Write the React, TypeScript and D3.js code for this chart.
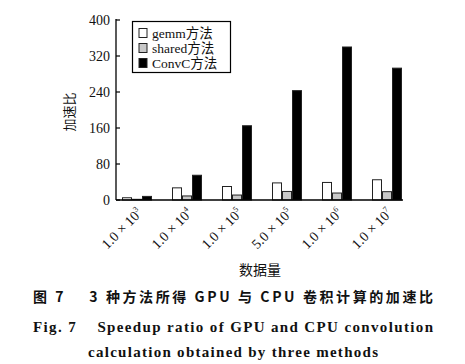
import {scaleBand, scaleLinear} from "d3";

const CATEGORIES = ["1.0×10|3", "1.0×10|4", "1.0×10|5", "5.0×10|5", "1.0×10|6", "1.0×10|7"];
const SERIES_NAMES = ["gemm方法", "shared方法", "ConvC方法"];
const GEMM = [5, 27, 30, 38, 39, 45];
const SHARED = [1.5, 9, 11, 19, 15.5, 18.5];
const CONVC = [8, 55, 165, 243, 340, 293];
const Y_TICKS = [0, 80, 160, 240, 320, 400];
const FILLS = ["#ffffff", "#c8c8c8", "#000000"];

const SERIF = "'Liberation Serif', 'Times New Roman', 'Noto Sans CJK SC', serif";

export default function App() {
  const width = 465;
  const height = 364;
  const left = 116;
  const right = 403;
  const top = 20;
  const bottom = 200;

  const x = scaleBand<string>().domain(CATEGORIES).range([112, 412]).paddingInner(0.4).paddingOuter(0.2);
  const y = scaleLinear().domain([0, 400]).range([bottom, top]);
  const sub = scaleBand<number>().domain([0, 1, 2]).range([0, x.bandwidth()]);
  const series = [GEMM, SHARED, CONVC];

  return (
    <svg width={width} height={height} style={{position: "absolute", left: 0, top: 0, background: "#fff"}}>
      <rect width={width} height={height} fill="#fff" />

      {series.map((values, si) =>
        values.map((v, i) => (
          <rect
            key={`${si}-${i}`}
            x={(x(CATEGORIES[i]) ?? 0) + (sub(si) ?? 0) + 0.5}
            y={y(v)}
            width={sub.bandwidth() - 1}
            height={bottom - y(v)}
            fill={FILLS[si]}
            stroke="#222"
            strokeWidth={1}
          />
        ))
      )}

      <line x1={left} x2={left} y1={top - 1} y2={bottom} stroke="#000" strokeWidth={1.3} />
      <line x1={left} x2={right} y1={bottom} y2={bottom} stroke="#000" strokeWidth={1.3} />

      {Y_TICKS.map((t) => (
        <g key={t} transform={`translate(0,${y(t)})`}>
          <line x1={left} x2={left + 4} stroke="#000" strokeWidth={1.2} />
          <text x={left - 6} dy="0.35em" textAnchor="end" fontFamily={SERIF} fontSize={14} fill="#111">
            {t}
          </text>
        </g>
      ))}

      {CATEGORIES.map((c) => {
        const [base, exp] = c.split("|");
        const cx = (x(c) ?? 0) + x.bandwidth() / 2 + 6;
        return (
          <text
            key={c}
            transform={`translate(${cx},${bottom + 14}) rotate(-45)`}
            textAnchor="end"
            fontFamily={SERIF}
            fontSize={14}
            fill="#111"
          >
            {base.replace("×", " × ")}
            <tspan dy={-6} fontSize={8}>{exp}</tspan>
          </text>
        );
      })}

      <text
        transform={`translate(74,112) rotate(-90)`}
        textAnchor="middle"
        fontFamily="'Noto Sans CJK SC', sans-serif"
        fontSize={13}
        fill="#111"
      >
        加速比
      </text>

      <text x={260} y={275} textAnchor="middle" fontFamily="'Noto Sans CJK SC', sans-serif" fontSize={14} fill="#111">
        数据量
      </text>

      <rect x={132.5} y={21.5} width={98} height={51} fill="#fff" stroke="#000" strokeWidth={1.2} />
      {SERIES_NAMES.map((name, i) => (
        <g key={name} transform={`translate(139,${33 + i * 15})`}>
          <rect x={0} y={-4.5} width={8} height={9} fill={FILLS[i]} stroke="#222" strokeWidth={1} />
          <text x={13} dy="0.35em" fontFamily={SERIF} fontSize={13.5} fill="#111">
            {name}
          </text>
        </g>
      ))}

      <text
        x={33}
        y={302}
        textLength={400}
        lengthAdjust="spacing"
        fontFamily="'Noto Sans CJK SC', sans-serif"
        fontWeight="bold"
        fontSize={14}
        fill="#111"
        style={{whiteSpace: "pre"}}
      >
        {"图 7    3 种方法所得 GPU 与 CPU 卷积计算的加速比"}
      </text>
      <text
        x={33}
        y={332}
        textLength={400}
        lengthAdjust="spacing"
        fontFamily={SERIF}
        fontWeight="bold"
        fontSize={15}
        fill="#111"
        style={{whiteSpace: "pre"}}
      >
        {"Fig. 7    Speedup ratio of GPU and CPU convolution"}
      </text>
      <text
        x={88}
        y={357}
        textLength={290}
        lengthAdjust="spacing"
        fontFamily={SERIF}
        fontWeight="bold"
        fontSize={15}
        fill="#111"
      >
        calculation obtained by three methods
      </text>
    </svg>
  );
}
